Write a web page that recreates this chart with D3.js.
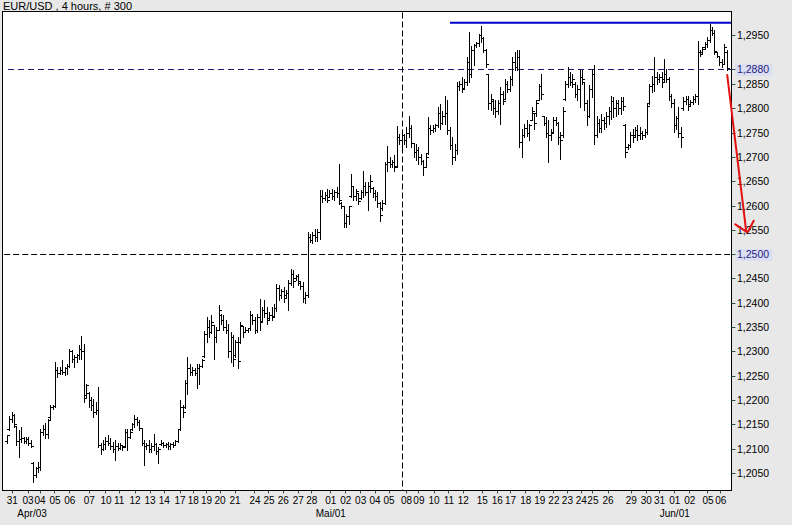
<!DOCTYPE html>
<html><head><meta charset="utf-8">
<script src="https://cdn.jsdelivr.net/npm/d3@7"></script>
<style>
body{margin:0;background:#e8e8e8;}
svg{display:block;}
text{font-family:"Liberation Sans",Arial,sans-serif;}
</style>
</head><body>
<svg id="chart" width="792" height="525"></svg>
<script>
const title = "EUR/USD , 4 hours, # 300";

const open = [
1.2115,1.2140,1.2160,1.2170,1.2146,1.2115,1.2120,1.2122,1.2116,1.2120,
1.2112,1.2070,1.2045,1.2060,1.2062,1.2135,1.2140,1.2130,1.2165,1.2185,
1.2188,1.2262,1.2255,1.2262,1.2258,1.2265,1.2270,1.2300,1.2285,1.2288,
1.2292,1.2305,1.2300,1.2210,1.2215,1.2200,1.2190,1.2175,1.2180,1.2108,
1.2100,1.2110,1.2115,1.2112,1.2105,1.2100,1.2105,1.2102,1.2108,1.2105,
1.2135,1.2125,1.2140,1.2150,1.2162,1.2155,1.2142,1.2112,1.2105,1.2108,
1.2100,1.2106,1.2110,1.2095,1.2110,1.2112,1.2108,1.2110,1.2106,1.2110,
1.2108,1.2115,1.2140,1.2185,1.2185,1.2235,1.2265,1.2258,1.2262,1.2256,
1.2265,1.2270,1.2290,1.2335,1.2350,1.2340,1.2355,1.2330,1.2345,1.2375,
1.2365,1.2350,1.2345,1.2300,1.2330,1.2292,1.2320,1.2320,1.2352,1.2340,
1.2345,1.2348,1.2375,1.2365,1.2345,1.2370,1.2362,1.2385,1.2380,1.2368,
1.2375,1.2372,1.2390,1.2430,1.2415,1.2425,1.2415,1.2420,1.2440,1.2460,
1.2450,1.2455,1.2440,1.2435,1.2410,1.2415,1.2535,1.2530,1.2540,1.2535,
1.2545,1.2620,1.2615,1.2622,1.2618,1.2625,1.2620,1.2628,1.2625,1.2605,
1.2598,1.2565,1.2578,1.2620,1.2640,1.2620,1.2625,1.2615,1.2628,1.2640,
1.2628,1.2640,1.2635,1.2625,1.2620,1.2605,1.2595,1.2605,1.2685,1.2690,
1.2685,1.2690,1.2682,1.2740,1.2735,1.2745,1.2735,1.2750,1.2760,1.2728,
1.2710,1.2715,1.2700,1.2692,1.2680,1.2707,1.2760,1.2755,1.2760,1.2765,
1.2790,1.2770,1.2785,1.2790,1.2755,1.2725,1.2700,1.2715,1.2845,1.2850,
1.2841,1.2855,1.2895,1.2870,1.2920,1.2930,1.2935,1.2950,1.2945,1.2920,
1.2870,1.2810,1.2815,1.2800,1.2795,1.2810,1.2830,1.2820,1.2850,1.2840,
1.2860,1.2895,1.2885,1.2905,1.2730,1.2745,1.2760,1.2750,1.2776,1.2790,
1.2790,1.2817,1.2845,1.2785,1.2770,1.2750,1.2745,1.2752,1.2775,1.2770,
1.2740,1.2745,1.2820,1.2850,1.2865,1.2855,1.2850,1.2830,1.2840,1.2865,
1.2855,1.2810,1.2785,1.2840,1.2870,1.2745,1.2770,1.2760,1.2775,1.2770,
1.2785,1.2795,1.2815,1.2800,1.2810,1.2800,1.2815,1.2765,1.2720,1.2725,
1.2745,1.2745,1.2755,1.2745,1.2750,1.2745,1.2752,1.2810,1.2845,1.2850,
1.2865,1.2860,1.2865,1.2860,1.2870,1.2860,1.2825,1.2810,1.2765,1.2780,
1.2750,1.2800,1.2815,1.2820,1.2808,1.2812,1.2820,1.2825,1.2915,1.2915,
1.2925,1.2932,1.2940,1.2960,1.2955,1.2915,1.2908,1.2895,1.2892,1.2915];

const high = [
1.2130,1.2168,1.2177,1.2173,1.2146,1.2139,1.2146,1.2125,1.2126,1.2125,
1.2118,1.2074,1.2064,1.2074,1.2142,1.2149,1.2153,1.2163,1.2190,1.2190,
1.2279,1.2269,1.2269,1.2283,1.2269,1.2276,1.2307,1.2303,1.2293,1.2296,
1.2314,1.2332,1.2317,1.2235,1.2218,1.2207,1.2204,1.2197,1.2228,1.2112,
1.2118,1.2125,1.2129,1.2122,1.2115,1.2118,1.2112,1.2112,1.2108,1.2142,
1.2142,1.2139,1.2153,1.2170,1.2166,1.2160,1.2142,1.2118,1.2112,1.2118,
1.2112,1.2132,1.2112,1.2105,1.2118,1.2115,1.2112,1.2115,1.2112,1.2115,
1.2118,1.2142,1.2201,1.2190,1.2242,1.2290,1.2276,1.2269,1.2266,1.2276,
1.2276,1.2286,1.2344,1.2372,1.2365,1.2375,1.2355,1.2352,1.2396,1.2378,
1.2375,1.2365,1.2358,1.2340,1.2335,1.2325,1.2330,1.2362,1.2352,1.2352,
1.2350,1.2385,1.2378,1.2372,1.2378,1.2409,1.2392,1.2406,1.2392,1.2382,
1.2392,1.2399,1.2440,1.2437,1.2430,1.2434,1.2427,1.2447,1.2471,1.2468,
1.2458,1.2461,1.2444,1.2444,1.2423,1.2547,1.2543,1.2547,1.2553,1.2553,
1.2632,1.2632,1.2629,1.2636,1.2632,1.2636,1.2632,1.2639,1.2687,1.2608,
1.2598,1.2584,1.2601,1.2666,1.2642,1.2636,1.2625,1.2632,1.2673,1.2649,
1.2649,1.2663,1.2639,1.2632,1.2629,1.2608,1.2612,1.2690,1.2724,1.2700,
1.2694,1.2704,1.2765,1.2748,1.2752,1.2748,1.2762,1.2786,1.2766,1.2728,
1.2728,1.2721,1.2707,1.2694,1.2707,1.2783,1.2766,1.2766,1.2769,1.2803,
1.2810,1.2796,1.2827,1.2817,1.2762,1.2742,1.2728,1.2855,1.2858,1.2865,
1.2861,1.2906,1.2957,1.2930,1.2933,1.2937,1.2954,1.2971,1.2947,1.2923,
1.2872,1.2831,1.2817,1.2817,1.2817,1.2844,1.2837,1.2862,1.2858,1.2868,
1.2906,1.2916,1.2920,1.2920,1.2759,1.2769,1.2776,1.2769,1.2803,1.2790,
1.2817,1.2851,1.2872,1.2786,1.2783,1.2776,1.2759,1.2783,1.2783,1.2772,
1.2752,1.2803,1.2858,1.2885,1.2875,1.2872,1.2855,1.2848,1.2879,1.2879,
1.2855,1.2817,1.2848,1.2882,1.2889,1.2786,1.2779,1.2790,1.2783,1.2793,
1.2803,1.2827,1.2824,1.2817,1.2817,1.2824,1.2824,1.2769,1.2728,1.2752,
1.2759,1.2762,1.2766,1.2762,1.2755,1.2759,1.2810,1.2851,1.2868,1.2906,
1.2875,1.2872,1.2875,1.2903,1.2882,1.2865,1.2831,1.2820,1.2786,1.2803,
1.2762,1.2824,1.2827,1.2827,1.2817,1.2827,1.2831,1.2940,1.2920,1.2927,
1.2937,1.2947,1.2975,1.2968,1.2961,1.2916,1.2909,1.2903,1.2933,1.2920];

const low = [
1.2112,1.2139,1.2156,1.2146,1.2108,1.2084,1.2115,1.2112,1.2112,1.2108,
1.2104,1.2033,1.2043,1.2053,1.2057,1.2129,1.2122,1.2122,1.2163,1.2183,
1.2187,1.2249,1.2255,1.2255,1.2252,1.2255,1.2269,1.2279,1.2269,1.2279,
1.2286,1.2286,1.2197,1.2207,1.2187,1.2180,1.2166,1.2173,1.2105,1.2091,
1.2098,1.2101,1.2108,1.2101,1.2094,1.2077,1.2098,1.2101,1.2098,1.2105,
1.2098,1.2122,1.2139,1.2146,1.2149,1.2139,1.2108,1.2067,1.2101,1.2094,
1.2094,1.2098,1.2091,1.2071,1.2108,1.2105,1.2105,1.2101,1.2101,1.2105,
1.2108,1.2115,1.2139,1.2166,1.2184,1.2214,1.2252,1.2252,1.2252,1.2225,
1.2235,1.2269,1.2290,1.2320,1.2330,1.2338,1.2286,1.2320,1.2345,1.2358,
1.2345,1.2338,1.2290,1.2280,1.2272,1.2290,1.2266,1.2318,1.2330,1.2340,
1.2340,1.2345,1.2358,1.2338,1.2341,1.2345,1.2362,1.2372,1.2358,1.2368,
1.2365,1.2372,1.2385,1.2406,1.2410,1.2403,1.2413,1.2386,1.2437,1.2434,
1.2447,1.2437,1.2430,1.2403,1.2400,1.2413,1.2526,1.2523,1.2529,1.2529,
1.2533,1.2608,1.2612,1.2608,1.2618,1.2615,1.2612,1.2618,1.2605,1.2595,
1.2557,1.2557,1.2564,1.2618,1.2612,1.2612,1.2605,1.2615,1.2618,1.2622,
1.2591,1.2629,1.2618,1.2612,1.2598,1.2570,1.2591,1.2605,1.2673,1.2680,
1.2680,1.2673,1.2680,1.2728,1.2721,1.2728,1.2721,1.2742,1.2721,1.2701,
1.2694,1.2687,1.2687,1.2663,1.2680,1.2707,1.2748,1.2752,1.2755,1.2762,
1.2759,1.2769,1.2769,1.2748,1.2718,1.2687,1.2694,1.2707,1.2838,1.2834,
1.2841,1.2848,1.2855,1.2865,1.2889,1.2927,1.2930,1.2937,1.2916,1.2885,
1.2800,1.2797,1.2790,1.2783,1.2790,1.2769,1.2810,1.2820,1.2834,1.2837,
1.2848,1.2879,1.2879,1.2721,1.2701,1.2742,1.2745,1.2735,1.2776,1.2759,
1.2786,1.2817,1.2820,1.2766,1.2742,1.2690,1.2735,1.2752,1.2766,1.2728,
1.2697,1.2742,1.2817,1.2844,1.2848,1.2844,1.2824,1.2817,1.2803,1.2851,
1.2797,1.2766,1.2783,1.2824,1.2728,1.2742,1.2752,1.2752,1.2759,1.2762,
1.2769,1.2779,1.2783,1.2786,1.2790,1.2790,1.2797,1.2701,1.2718,1.2721,
1.2731,1.2745,1.2735,1.2738,1.2738,1.2742,1.2748,1.2810,1.2834,1.2837,
1.2851,1.2855,1.2844,1.2858,1.2855,1.2817,1.2803,1.2752,1.2759,1.2742,
1.2721,1.2797,1.2810,1.2797,1.2807,1.2810,1.2814,1.2810,1.2909,1.2913,
1.2923,1.2927,1.2937,1.2951,1.2913,1.2906,1.2889,1.2885,1.2892,1.2879];

const close = [
1.2128,1.2160,1.2170,1.2150,1.2115,1.2120,1.2122,1.2116,1.2120,1.2112,
1.2106,1.2045,1.2060,1.2062,1.2135,1.2140,1.2130,1.2158,1.2185,1.2188,
1.2262,1.2255,1.2262,1.2258,1.2265,1.2270,1.2300,1.2285,1.2288,1.2292,
1.2305,1.2300,1.2205,1.2230,1.2200,1.2190,1.2175,1.2180,1.2108,1.2100,
1.2110,1.2115,1.2112,1.2105,1.2100,1.2105,1.2102,1.2108,1.2104,1.2135,
1.2125,1.2135,1.2150,1.2162,1.2155,1.2142,1.2112,1.2105,1.2108,1.2100,
1.2106,1.2110,1.2095,1.2100,1.2112,1.2108,1.2110,1.2106,1.2110,1.2108,
1.2115,1.2140,1.2185,1.2175,1.2235,1.2265,1.2258,1.2262,1.2256,1.2265,
1.2270,1.2282,1.2335,1.2350,1.2340,1.2360,1.2330,1.2345,1.2385,1.2365,
1.2350,1.2345,1.2300,1.2330,1.2285,1.2320,1.2280,1.2355,1.2340,1.2345,
1.2348,1.2375,1.2365,1.2345,1.2370,1.2360,1.2385,1.2380,1.2365,1.2375,
1.2370,1.2390,1.2430,1.2415,1.2425,1.2410,1.2420,1.2440,1.2460,1.2445,
1.2455,1.2445,1.2435,1.2410,1.2415,1.2535,1.2530,1.2540,1.2535,1.2545,
1.2620,1.2615,1.2622,1.2612,1.2625,1.2620,1.2628,1.2625,1.2612,1.2598,
1.2565,1.2578,1.2598,1.2640,1.2620,1.2630,1.2610,1.2628,1.2640,1.2628,
1.2640,1.2650,1.2625,1.2620,1.2605,1.2580,1.2605,1.2685,1.2690,1.2685,
1.2690,1.2680,1.2740,1.2735,1.2745,1.2735,1.2750,1.2760,1.2728,1.2710,
1.2715,1.2700,1.2692,1.2680,1.2700,1.2760,1.2755,1.2760,1.2765,1.2790,
1.2770,1.2785,1.2790,1.2755,1.2725,1.2700,1.2715,1.2845,1.2850,1.2840,
1.2855,1.2895,1.2870,1.2920,1.2930,1.2935,1.2950,1.2945,1.2920,1.2890,
1.2810,1.2820,1.2800,1.2795,1.2810,1.2830,1.2815,1.2850,1.2840,1.2860,
1.2895,1.2885,1.2905,1.2730,1.2745,1.2760,1.2750,1.2765,1.2795,1.2770,
1.2810,1.2845,1.2830,1.2770,1.2750,1.2745,1.2750,1.2775,1.2770,1.2740,
1.2735,1.2795,1.2850,1.2865,1.2855,1.2860,1.2830,1.2840,1.2865,1.2860,
1.2810,1.2785,1.2840,1.2870,1.2745,1.2770,1.2760,1.2775,1.2770,1.2785,
1.2795,1.2815,1.2800,1.2810,1.2800,1.2815,1.2805,1.2710,1.2725,1.2745,
1.2740,1.2755,1.2745,1.2750,1.2745,1.2752,1.2805,1.2845,1.2850,1.2865,
1.2860,1.2865,1.2855,1.2870,1.2860,1.2825,1.2810,1.2765,1.2780,1.2750,
1.2740,1.2815,1.2820,1.2805,1.2812,1.2820,1.2825,1.2915,1.2912,1.2922,
1.2932,1.2940,1.2960,1.2955,1.2918,1.2908,1.2895,1.2890,1.2925,1.2882];

// y axis tick values (regular) and highlighted levels
const yTickValues = [1.2050,1.2100,1.2150,1.2200,1.2250,1.2300,1.2350,1.2400,1.2450,
  1.2550,1.2600,1.2650,1.2700,1.2750,1.2800,1.2850,1.2950];
const highlightLevels = [1.2880, 1.2500];

// x axis: day labels with their bar-index positions
const dayLabels = ["31","03","04","05","06","07","10","11","12","13","14","17","18","19","20","21",
  "24","25","26","27","28","01","02","03","04","05","08","09","10","11","12","15","16","17","18",
  "19","22","23","24","25","26","29","30","31","01","02","05","06"];
const dayPos = [2.1,8.6,13.6,19.8,26.0,34.1,41.0,46.5,53.1,59.3,65.2,71.8,77.3,82.8,88.4,94.6,
  102.9,108.7,114.7,120.9,126.5,134.4,140.6,146.8,152.8,158.6,165.9,171.0,177.3,183.5,189.4,197.3,
  203.6,209.1,215.4,221.2,227.1,232.7,238.5,243.3,249.6,259.2,265.5,271.0,277.3,283.5,291.1,296.4];
const monthLabels = ["Apr/03","Mai/01","Jun/01"];
const monthPos = [10.3, 134.4, 277.3];

// annotations (bar index, price)
const resistance = {from: 183.9, to: 300.9, level: 1.2977};
const dashedBlue = {from: 0.3, level: 1.2880};
const dashedBlack = {from: -1.3, level: 1.2500};
const crosshairBar = 164.1;
const arrowShaft = [[299.1, 1.28694], [307.0, 1.25472]];
const arrowWingL = [[302.45, 1.25624], [307.0, 1.25472]];
const arrowWingR = [[310.1, 1.25698], [307.7, 1.25472]];

const W = 792, H = 525;
const plot = {left: 2.5, right: 731.5, top: 11.5, bottom: 490.5};
const svg = d3.select("#chart");

const x = d3.scaleLinear().domain([0, 299]).range([7.3, 727]);
const y = d3.scaleLinear().domain([1.2015, 1.3000]).range([plot.bottom, plot.top]);
const fmt = v => d3.format(".4f")(v).replace(".", ",");

svg.append("rect").attr("width", W).attr("height", H).attr("fill", "#e8e8e8");
svg.append("rect").attr("x", plot.left).attr("y", plot.top)
  .attr("width", plot.right - plot.left).attr("height", plot.bottom - plot.top)
  .attr("fill", "#ffffff");

svg.append("text").attr("x", 3).attr("y", 10).attr("font-size", 11).attr("fill", "#000").text(title);

const crisp = v => Math.round(v - 0.5) + 0.5;

// reference lines
svg.append("line")
  .attr("x1", x(dashedBlack.from)).attr("x2", plot.right)
  .attr("y1", crisp(y(dashedBlack.level))).attr("y2", crisp(y(dashedBlack.level)))
  .attr("stroke", "#000").attr("stroke-width", 1).attr("stroke-dasharray", "6,3");
svg.append("line")
  .attr("x1", x(dashedBlue.from)).attr("x2", plot.right)
  .attr("y1", crisp(y(dashedBlue.level))).attr("y2", crisp(y(dashedBlue.level)))
  .attr("stroke", "#1a1a6e").attr("stroke-width", 1).attr("stroke-dasharray", "6,4");
svg.append("line")
  .attr("x1", crisp(x(crosshairBar))).attr("x2", crisp(x(crosshairBar)))
  .attr("y1", plot.top + 1).attr("y2", plot.bottom)
  .attr("stroke", "#000").attr("stroke-width", 1).attr("stroke-dasharray", "6,3");

// OHLC bars
const idx = d3.range(open.length);
const bars = svg.append("g").attr("shape-rendering", "crispEdges").attr("stroke", "#000").attr("stroke-width", 1);
idx.forEach(i => {
  const cx = crisp(x(i));
  bars.append("line").attr("x1", cx).attr("x2", cx)
    .attr("y1", Math.round(y(high[i]))).attr("y2", Math.round(y(low[i])) + 1);
  const yo = crisp(y(open[i])), yc = crisp(y(close[i]));
  bars.append("line").attr("x1", cx - 2.5).attr("x2", cx).attr("y1", yo).attr("y2", yo);
  bars.append("line").attr("x1", cx).attr("x2", cx + 2.5).attr("y1", yc).attr("y2", yc);
});

// resistance line
svg.append("line")
  .attr("x1", x(resistance.from)).attr("x2", x(resistance.to))
  .attr("y1", y(resistance.level)).attr("y2", y(resistance.level))
  .attr("stroke", "#0000cc").attr("stroke-width", 2);

// frame
svg.append("rect").attr("x", plot.left).attr("y", plot.top)
  .attr("width", plot.right - plot.left).attr("height", plot.bottom - plot.top)
  .attr("fill", "none").attr("stroke", "#000").attr("stroke-width", 1);

// y axis ticks and labels
const yAxis = svg.append("g");
yTickValues.forEach(v => {
  const yy = crisp(y(v));
  yAxis.append("line").attr("x1", plot.right).attr("x2", plot.right + 4)
    .attr("y1", yy).attr("y2", yy).attr("stroke", "#2f4f4f").attr("stroke-width", 1);
  yAxis.append("text").attr("x", 737).attr("y", yy + 3.6).attr("font-size", 10.5)
    .attr("fill", "#000").text(fmt(v));
});
highlightLevels.forEach(v => {
  const yy = crisp(y(v));
  yAxis.append("rect").attr("x", 735.5).attr("y", yy - 5.5).attr("width", 37).attr("height", 12)
    .attr("fill", "#dcdff2");
  yAxis.append("line").attr("x1", plot.right).attr("x2", plot.right + 4)
    .attr("y1", yy).attr("y2", yy).attr("stroke", "#2f4f4f").attr("stroke-width", 1);
  yAxis.append("text").attr("x", 737).attr("y", yy + 3.6).attr("font-size", 10.5)
    .attr("fill", "#1c1c80").text(fmt(v));
});

// x axis ticks and labels
const xAxis = svg.append("g");
dayPos.forEach((p, k) => {
  const xx = crisp(x(p));
  xAxis.append("line").attr("x1", xx).attr("x2", xx).attr("y1", plot.bottom).attr("y2", plot.bottom + 3)
    .attr("stroke", "#2f4f4f").attr("stroke-width", 1);
  xAxis.append("text").attr("x", x(p)).attr("y", 503.5).attr("font-size", 10)
    .attr("text-anchor", "middle").attr("fill", "#000").text(dayLabels[k]);
});
monthPos.forEach((p, k) => {
  xAxis.append("text").attr("x", x(p)).attr("y", 517).attr("font-size", 10)
    .attr("text-anchor", "middle").attr("fill", "#000").text(monthLabels[k]);
});

// red arrow annotation
const lineGen = d3.line().x(d => x(d[0])).y(d => y(d[1]));
[arrowShaft, arrowWingL, arrowWingR].forEach(seg => {
  svg.append("path").attr("d", lineGen(seg)).attr("fill", "none")
    .attr("stroke", "#e41010").attr("stroke-width", 2).attr("stroke-linecap", "round");
});
</script>
</body></html>
